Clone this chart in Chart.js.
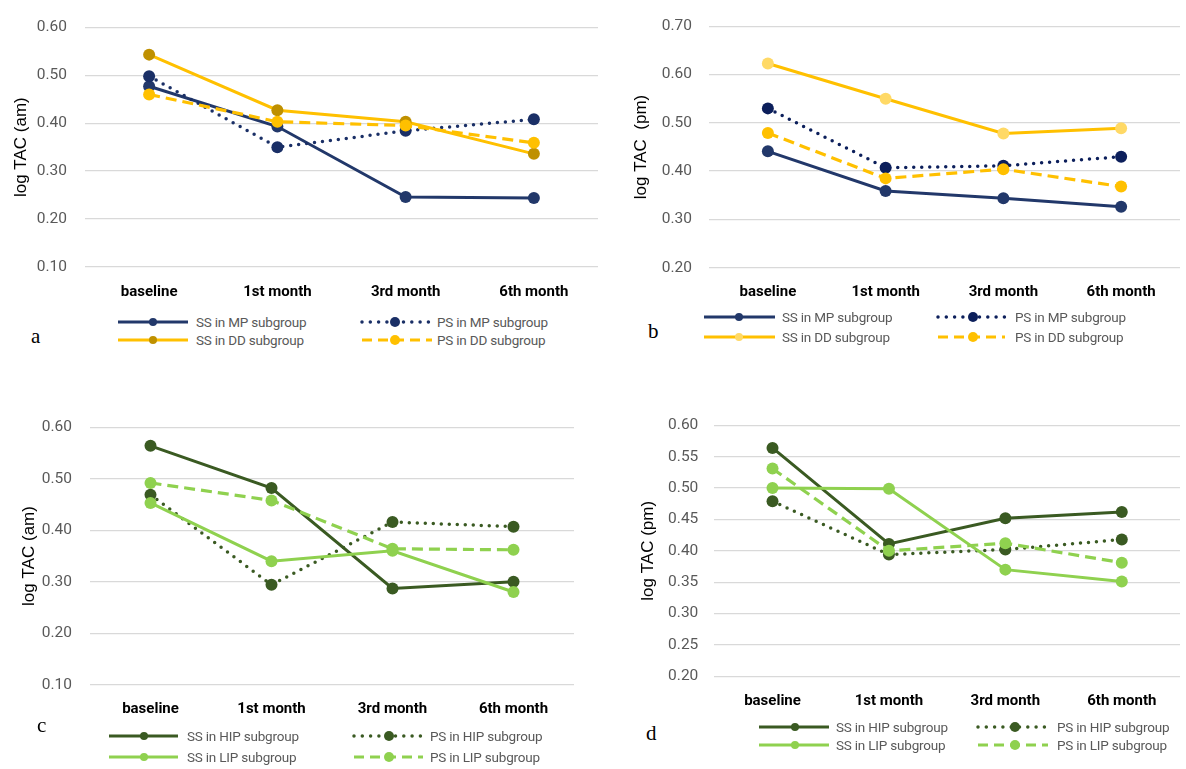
<!DOCTYPE html>
<html><head><meta charset="utf-8">
<script src="https://cdn.jsdelivr.net/npm/chart.js@4.4.1/dist/chart.umd.min.js"></script>
<style>
html,body{margin:0;padding:0;background:#fff;}
body{width:1186px;height:769px;position:relative;overflow:hidden;}
canvas{position:absolute;}
.lg{position:absolute;height:18px;line-height:18px;font-family:Roboto,sans-serif;font-size:13.5px;letter-spacing:-0.2px;color:#595959;white-space:nowrap;}
.sw{position:absolute;overflow:visible;}
.pl{position:absolute;font-family:'Liberation Serif','Times New Roman',serif;font-size:21px;color:#000;line-height:22px;}
</style></head><body>
<canvas id="ca" width="604" height="310" style="left:0;top:0"></canvas>
<canvas id="cb" width="571" height="310" style="left:615px;top:0"></canvas>
<canvas id="cc" width="580" height="330" style="left:0;top:400px"></canvas>
<canvas id="cd" width="571" height="320" style="left:615px;top:400px"></canvas>
<div class="pl" style="left:31px;top:325px">a</div>
<div class="pl" style="left:648px;top:320px">b</div>
<div class="pl" style="left:37px;top:714px">c</div>
<div class="pl" style="left:646px;top:722px">d</div>
<script>
// ---------- data ----------
const categories = ['baseline', '1st month', '3rd month', '6th month'];

const labelsMPDD = ['SS in MP subgroup', 'PS in MP subgroup', 'SS in DD subgroup', 'PS in DD subgroup'];
const labelsHIPLIP = ['SS in HIP subgroup', 'PS in HIP subgroup', 'SS in LIP subgroup', 'PS in LIP subgroup'];

// panel a: log TAC (am)
const aSSinMP = [0.477, 0.393, 0.246, 0.244];
const aPSinMP = [0.498, 0.350, 0.384, 0.408];
const aSSinDD = [0.543, 0.427, 0.403, 0.336];
const aPSinDD = [0.460, 0.403, 0.395, 0.359];
// panel b: log TAC (pm)
const bSSinMP = [0.441, 0.359, 0.344, 0.326];
const bPSinMP = [0.530, 0.407, 0.411, 0.430];
const bSSinDD = [0.623, 0.550, 0.478, 0.489];
const bPSinDD = [0.479, 0.385, 0.404, 0.368];
// panel c: log TAC (am)
const cSSinHIP = [0.564, 0.482, 0.287, 0.300];
const cPSinHIP = [0.469, 0.294, 0.416, 0.407];
const cSSinLIP = [0.453, 0.340, 0.360, 0.280];
const cPSinLIP = [0.492, 0.458, 0.364, 0.362];
// panel d: log TAC (pm)
const dSSinHIP = [0.564, 0.411, 0.452, 0.462];
const dPSinHIP = [0.479, 0.394, 0.402, 0.418];
const dSSinLIP = [0.500, 0.499, 0.370, 0.351];
const dPSinLIP = [0.531, 0.400, 0.412, 0.381];

// y-axis ticks [min, max, step]
const yTicksA = [0.10, 0.60, 0.10];
const yTicksB = [0.20, 0.70, 0.10];
const yTicksC = [0.10, 0.60, 0.10];
const yTicksD = [0.20, 0.60, 0.05];

// ---------- styling ----------
const NAVY = '#22386A', NAVY2 = '#1A2F66', NAVY3 = '#0C1F5B';
const GOLD = '#FFC000', GOLDM = '#BF9000', GOLDL = '#FFD966';
const DGREEN = '#3A5A22', LGREEN = '#8FD14F';

function ds(label, data, color, pcolor, kind, idx) {
  const o = {
    label, data,
    borderColor: color, backgroundColor: pcolor,
    pointBackgroundColor: pcolor, pointBorderColor: pcolor,
    pointRadius: 6, pointBorderWidth: 0, pointHoverRadius: 6,
    borderWidth: 3, tension: 0, fill: false,
    order: 10 - idx, kind
  };
  if (kind === 'dot') { o.borderDash = [0, 8]; o.borderCapStyle = 'round'; o.borderWidth = 3.5; }
  if (kind === 'dash') { o.borderDash = [11, 6]; o.borderWidth = 3.2; }
  return o;
}

function makeChart(id, sets, yt, title, g) {
  return new Chart(document.getElementById(id), {
    type: 'line',
    data: { labels: categories, datasets: sets },
    options: {
      responsive: false, animation: false, devicePixelRatio: 1,
      layout: { padding: { top: g.padTop, right: g.padRight, bottom: 0, left: 0 } },
      plugins: { legend: { display: false }, tooltip: { enabled: false } },
      scales: {
        x: {
          type: 'category', offset: true,
          grid: { display: false, drawTicks: false }, border: { display: false },
          ticks: { color: '#000', padding: 16, font: { family: 'Roboto', size: 15, weight: 'bold' } },
          afterFit: s => { s.height = g.xh; }
        },
        y: {
          min: yt[0], max: yt[1],
          ticks: { stepSize: yt[2], padding: g.tickPad, color: '#595959',
                   font: { family: 'Roboto', size: 15.5 }, callback: v => Number(v).toFixed(2) },
          grid: { color: '#D9D9D9', lineWidth: 1.3, drawTicks: false }, border: { display: false },
          title: { display: true, text: title, color: '#000',
                   font: { family: "'Liberation Sans', Arial, sans-serif", size: 17 },
                   padding: { top: g.titlePad, bottom: 0 } },
          afterFit: s => { s.width = g.yw; }
        }
      }
    }
  });
}

const chA = makeChart('ca', [
  ds(labelsMPDD[0], aSSinMP, NAVY, NAVY, 'solid', 0),
  ds(labelsMPDD[1], aPSinMP, NAVY2, NAVY2, 'dot', 1),
  ds(labelsMPDD[2], aSSinDD, GOLD, GOLDM, 'solid', 2),
  ds(labelsMPDD[3], aPSinDD, GOLD, GOLD, 'dash', 3)
], yTicksA, 'log TAC (am)', { padTop: 23.3, padRight: 0, xh: 43, yw: 85, tickPad: 18, titlePad: 10.8 });

const chB = makeChart('cb', [
  ds(labelsMPDD[0], bSSinMP, NAVY, NAVY, 'solid', 0),
  ds(labelsMPDD[1], bPSinMP, NAVY3, NAVY3, 'dot', 1),
  ds(labelsMPDD[2], bSSinDD, GOLD, GOLDL, 'solid', 2),
  ds(labelsMPDD[3], bPSinDD, GOLD, GOLD, 'dash', 3)
], yTicksB, 'log TAC  (pm)', { padTop: 15.3, padRight: 2, xh: 42.3, yw: 94, tickPad: 17, titlePad: 15.8 });

const chC = makeChart('cc', [
  ds(labelsHIPLIP[0], cSSinHIP, DGREEN, DGREEN, 'solid', 0),
  ds(labelsHIPLIP[1], cPSinHIP, DGREEN, DGREEN, 'dot', 1),
  ds(labelsHIPLIP[2], cSSinLIP, LGREEN, LGREEN, 'solid', 2),
  ds(labelsHIPLIP[3], cPSinLIP, LGREEN, LGREEN, 'dash', 3)
], yTicksC, 'log TAC (am)', { padTop: 22.3, padRight: 0, xh: 45.3, yw: 90, tickPad: 18, titlePad: 18.8 });

const chD = makeChart('cd', [
  ds(labelsHIPLIP[0], dSSinHIP, DGREEN, DGREEN, 'solid', 0),
  ds(labelsHIPLIP[1], dPSinHIP, DGREEN, DGREEN, 'dot', 1),
  ds(labelsHIPLIP[2], dSSinLIP, LGREEN, LGREEN, 'solid', 2),
  ds(labelsHIPLIP[3], dPSinLIP, LGREEN, LGREEN, 'dash', 3)
], yTicksD, 'log TAC (pm)', { padTop: 15.7, padRight: 0, xh: 43.7, yw: 99.3, tickPad: 16, titlePad: 22.8 });

// ---------- HTML legends built from the chart datasets ----------
const NS = 'http://www.w3.org/2000/svg';
function legend(chart, rows, cols) {
  chart.data.datasets.forEach((d, i) => {
    const ry = rows[Math.floor(i / 2)], c = cols[i % 2];
    const w = c.ex - c.sx;
    const svg = document.createElementNS(NS, 'svg');
    svg.setAttribute('class', 'sw');
    svg.setAttribute('width', w); svg.setAttribute('height', 14);
    svg.style.left = c.sx + 'px'; svg.style.top = (ry - 7) + 'px';
    const ln = document.createElementNS(NS, 'line');
    ln.setAttribute('x1', 0); ln.setAttribute('x2', w); ln.setAttribute('y1', 7); ln.setAttribute('y2', 7);
    ln.setAttribute('stroke', d.borderColor);
    ln.setAttribute('stroke-width', d.kind === 'dot' ? 3.5 : 3.2);
    if (d.kind === 'dot') { ln.setAttribute('stroke-dasharray', '0 8.3'); ln.setAttribute('stroke-linecap', 'round'); }
    if (d.kind === 'dash') ln.setAttribute('stroke-dasharray', '10 6');
    svg.appendChild(ln);
    const cc = document.createElementNS(NS, 'circle');
    cc.setAttribute('cx', c.mx - c.sx); cc.setAttribute('cy', 7);
    cc.setAttribute('r', d.kind === 'solid' ? 4 : 5);
    cc.setAttribute('fill', d.pointBackgroundColor);
    svg.appendChild(cc);
    document.body.appendChild(svg);
    const t = document.createElement('div');
    t.className = 'lg'; t.textContent = d.label;
    t.style.left = c.tx + 'px'; t.style.top = (ry - 9) + 'px';
    document.body.appendChild(t);
  });
}
legend(chA, [321.7, 340], [{ sx: 118, ex: 188, mx: 153, tx: 196 }, { sx: 362, ex: 432, mx: 395, tx: 437 }]);
legend(chB, [316.7, 336.7], [{ sx: 704, ex: 775, mx: 739, tx: 782 }, { sx: 938, ex: 1005, mx: 973, tx: 1015 }]);
legend(chC, [736, 757.3], [{ sx: 109, ex: 178, mx: 144, tx: 187 }, { sx: 354, ex: 423, mx: 389, tx: 430 }]);
legend(chD, [726.7, 745], [{ sx: 759, ex: 829, mx: 795, tx: 836 }, { sx: 978, ex: 1048, mx: 1015, tx: 1057 }]);
</script>
</body></html>
